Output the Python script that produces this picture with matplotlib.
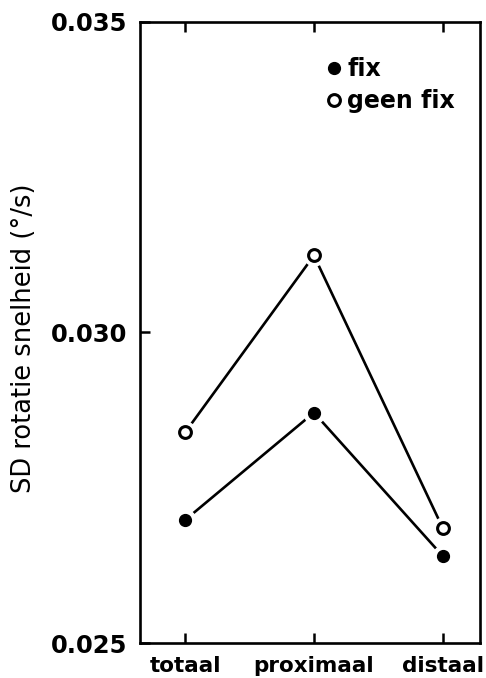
import numpy as np
import matplotlib.pyplot as plt
from matplotlib.lines import Line2D

# data
categories = ['totaal', 'proximaal', 'distaal']
fix = [0.02698, 0.02871, 0.02640]
geen_fix = [0.02839, 0.03124, 0.02685]
yticks = [0.025, 0.030, 0.035]
ytick_labels = ['0.025', '0.030', '0.035']

x = np.arange(len(categories))

fig = plt.figure(figsize=(4.86, 6.78), dpi=100)
ax = fig.add_axes([0.288, 0.0516, 0.700, 0.916])

# lines first, then a white halo so the line stops short of the marker
for vals in (fix, geen_fix):
    ax.plot(x, vals, color='black', lw=1.9, zorder=2)
    ax.plot(x, vals, 'o', ms=15, color='white', mec='white', zorder=3)
ax.plot(x, fix, 'o', ms=8.5, color='black', zorder=4)
ax.plot(x, geen_fix, 'o', ms=8.5, mfc='white', mec='black', mew=2.2, zorder=4)

ax.set_xlim(-0.35, 2.29)
ax.set_ylim(0.025, 0.035)
ax.set_xticks(x)
ax.set_xticklabels(categories, fontsize=15.5, fontweight='bold')
ax.set_yticks(yticks)
ax.set_yticklabels(ytick_labels, fontsize=17.5, fontweight='bold')
ax.tick_params(axis='x', direction='in', length=7, width=1.8, pad=9, top=True)
ax.tick_params(axis='y', direction='in', length=7, width=1.8, pad=9)
for s in ax.spines.values():
    s.set_linewidth(1.9)

ax.set_ylabel('SD rotatie snelheid (°/s)', fontsize=18.5)
ax.yaxis.set_label_coords(-0.303, 0.49)

handles = [
    Line2D([], [], ls='none', marker='o', ms=8.5, color='black'),
    Line2D([], [], ls='none', marker='o', ms=8.5, mfc='white', mec='black', mew=2.2),
]
leg = ax.legend(handles, ['fix', 'geen fix'], loc='upper left',
                bbox_to_anchor=(0.488, 0.978), frameon=False,
                handlelength=0.6, handletextpad=0.25, labelspacing=0.35,
                prop={'size': 17, 'weight': 'bold'})

fig.savefig('out.png', dpi=100)
